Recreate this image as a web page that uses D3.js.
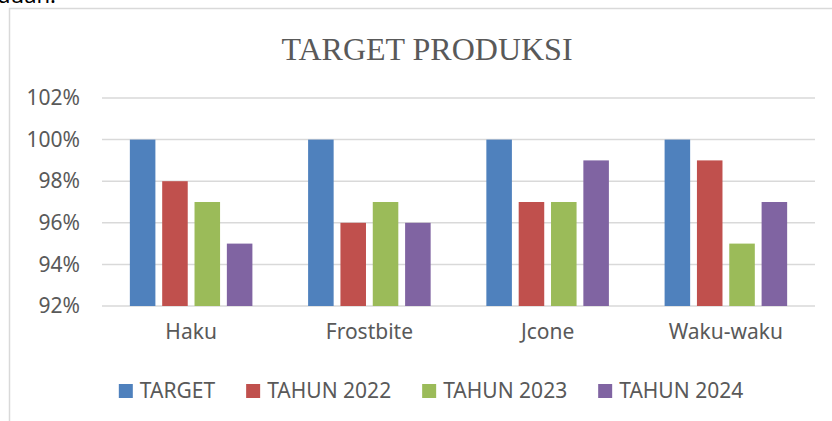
<!DOCTYPE html>
<html>
<head>
<meta charset="utf-8">
<script src="https://cdn.jsdelivr.net/npm/d3@7"></script>
<style>
  html, body { margin: 0; padding: 0; background: #fff; }
  svg { display: block; }
</style>
</head>
<body>
<div id="chart"></div>
<script>
// data
const products = ["Haku", "Frostbite", "Jcone", "Waku-waku"];
const seriesNames = ["TARGET", "TAHUN 2022", "TAHUN 2023", "TAHUN 2024"];
const target = [1.00, 1.00, 1.00, 1.00];
const tahun2022 = [0.98, 0.96, 0.97, 0.99];
const tahun2023 = [0.97, 0.97, 0.97, 0.95];
const tahun2024 = [0.95, 0.96, 0.99, 0.97];
const yTicks = [0.92, 0.94, 0.96, 0.98, 1.00, 1.02];
const colors = ["#4F81BD", "#C0504D", "#9BBB59", "#8064A2"];

const width = 832, height = 421;
const margin = { top: 98, right: 17, bottom: 115, left: 102 };
const innerW = width - margin.left - margin.right,
    innerH = height - margin.top - margin.bottom;

const table = products.map((p, i) => ({
    product: p,
    values: [target[i], tahun2022[i], tahun2023[i], tahun2024[i]]
}));

const svg = d3.select("#chart").append("svg")
    .attr("width", width)
    .attr("height", height);

// clipped document text above the chart
svg.append("text")
    .attr("x", -3).attr("y", 3)
    .attr("font-family", "Noto Sans, sans-serif")
    .attr("font-size", 22)
    .attr("fill", "#000")
    .text("duan.");

// chart frame (right and bottom edges run off the page)
svg.append("rect")
    .attr("x", 9.5).attr("y", 8.5)
    .attr("width", 900).attr("height", 500)
    .attr("fill", "none")
    .attr("stroke", "#d9d9d9")
    .attr("stroke-width", 1.5);

svg.append("text")
    .attr("x", 427).attr("y", 60)
    .attr("text-anchor", "middle")
    .attr("font-family", "Liberation Serif, Times New Roman, serif")
    .attr("font-size", 32)
    .attr("fill", "#595959")
    .text("TARGET PRODUKSI");

const g = svg.append("g")
    .attr("transform", `translate(${margin.left},${margin.top})`);

const x0 = d3.scaleBand()
    .domain(products)
    .range([0, innerW])
    .paddingInner(0.3125)
    .paddingOuter(0.15625);

const x1 = d3.scaleBand()
    .domain(d3.range(seriesNames.length))
    .range([0, x0.bandwidth()])
    .paddingInner(0.21);

const y = d3.scaleLinear()
    .domain([0.92, 1.02])
    .range([innerH, 0]);

// gridlines
g.append("g")
    .selectAll("line")
    .data(yTicks)
    .join("line")
    .attr("x1", 0).attr("x2", innerW)
    .attr("y1", d => y(d)).attr("y2", d => y(d))
    .attr("stroke", "#d9d9d9")
    .attr("stroke-width", 1.5);

// y axis labels
const yAxis = g.append("g")
    .call(d3.axisLeft(y).tickValues(yTicks).tickSize(0).tickPadding(22)
        .tickFormat(d => Math.round(d * 100) + "%"));
yAxis.select(".domain").remove();
yAxis.selectAll("text")
    .attr("font-family", "Noto Sans, sans-serif")
    .attr("font-size", 21)
    .attr("fill", "#595959");

// bars
g.append("g")
    .selectAll("g")
    .data(table)
    .join("g")
    .attr("transform", d => `translate(${x0(d.product)},0)`)
    .selectAll("rect")
    .data(d => d.values.map((v, i) => ({ i: i, v: v })))
    .join("rect")
    .attr("x", d => x1(d.i))
    .attr("width", x1.bandwidth())
    .attr("y", d => y(d.v))
    .attr("height", d => y(0.92) - y(d.v))
    .attr("fill", d => colors[d.i]);

// x axis labels
const xAxis = g.append("g")
    .attr("transform", `translate(0,${innerH})`)
    .call(d3.axisBottom(x0).tickSize(0).tickPadding(18));
xAxis.select(".domain").remove();
xAxis.selectAll("text")
    .attr("font-family", "Noto Sans, sans-serif")
    .attr("font-size", 21)
    .attr("fill", "#595959");

// legend
const legend = svg.append("g");
let lx = 0;
seriesNames.forEach((name, i) => {
    const item = legend.append("g").attr("transform", `translate(${lx},0)`);
    item.append("rect")
        .attr("x", 0).attr("y", 384)
        .attr("width", 14).attr("height", 14)
        .attr("fill", colors[i]);
    const t = item.append("text")
        .attr("x", 21).attr("y", 398)
        .attr("font-family", "Noto Sans, sans-serif")
        .attr("font-size", 21)
        .attr("fill", "#595959")
        .text(name);
    lx += 21 + t.node().getComputedTextLength() + 31;
});
const legendW = lx - 31;
legend.attr("transform", `translate(${431 - legendW / 2},0)`);
</script>
</body>
</html>
